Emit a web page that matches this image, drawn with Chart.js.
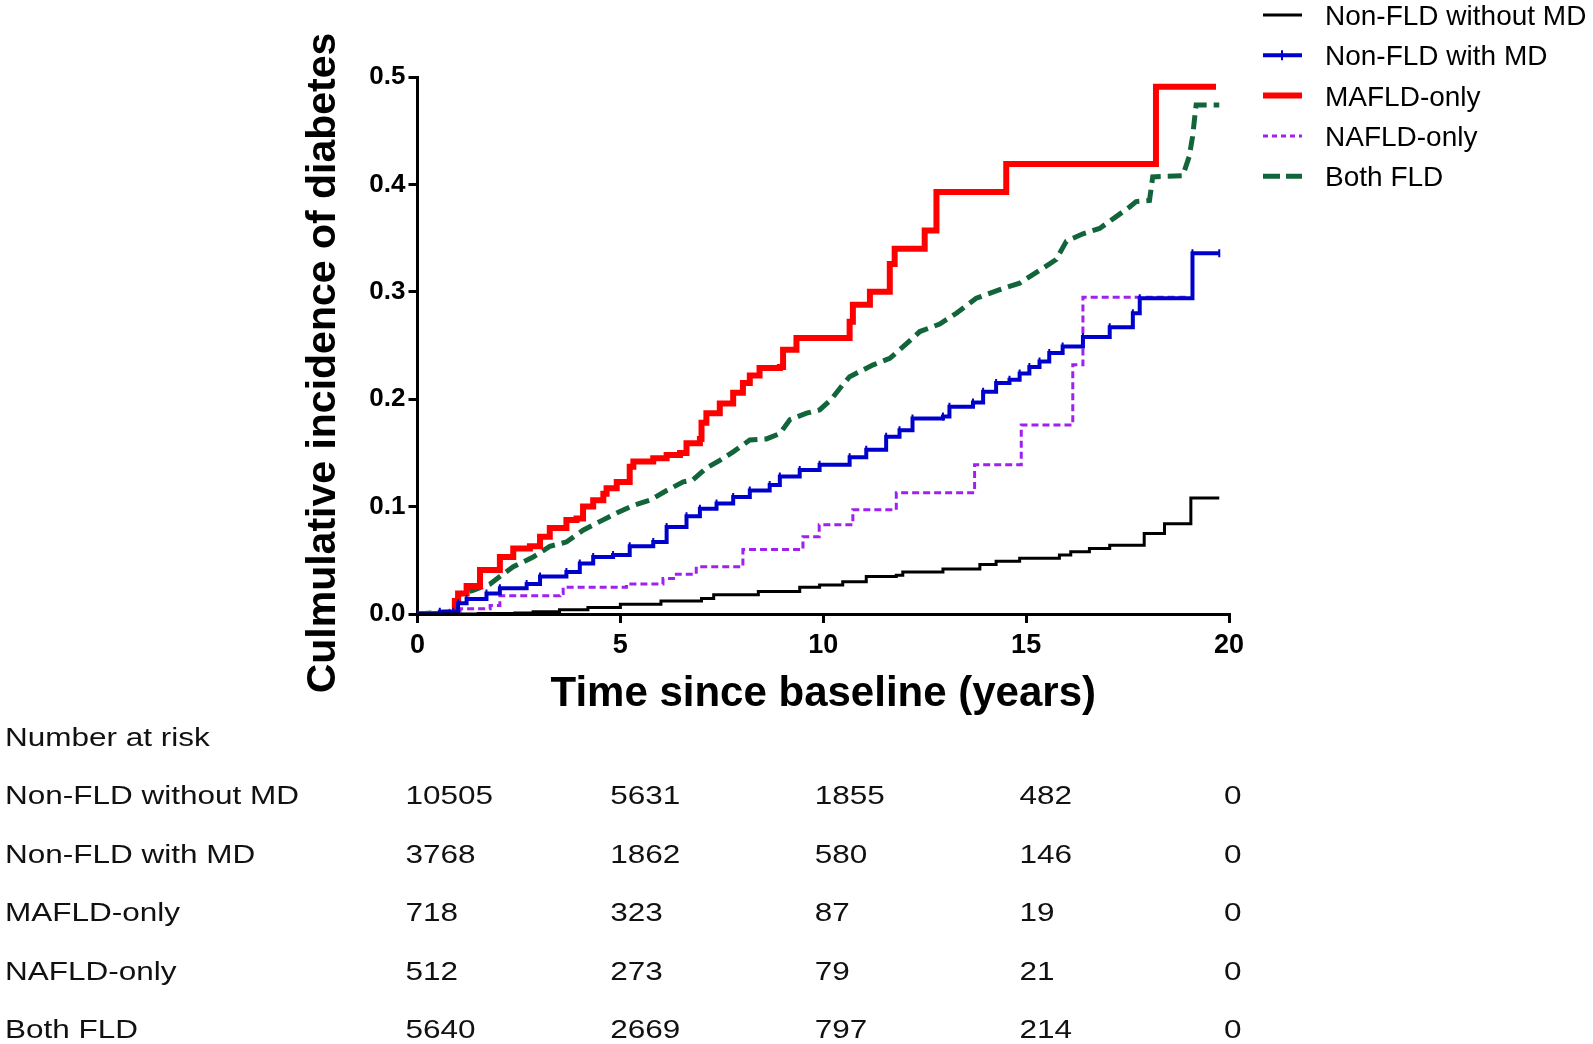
<!DOCTYPE html>
<html>
<head>
<meta charset="utf-8">
<script src="https://cdn.jsdelivr.net/npm/chart.js@4/dist/chart.umd.min.js"></script>
<style>
  html, body { margin: 0; padding: 0; background: #fff; }
  #wrap { position: relative; width: 1593px; height: 1044px; }
</style>
</head>
<body>
<div id="wrap"><canvas id="km"></canvas></div>
<script>
// Groups and curve data (time in years, cumulative incidence)
const groupNames = ['Non-FLD without MD', 'Non-FLD with MD', 'MAFLD-only', 'NAFLD-only', 'Both FLD'];

const noFldTime = [0, 1.5, 2.4, 2.85, 3.5, 4.2, 5.0, 6.0, 7.0, 7.3, 8.4, 9.42, 9.91, 10.48, 11.06, 11.8, 11.96, 12.95, 13.86, 14.26, 14.84, 15.82, 16.1, 16.56, 17.06, 17.91, 18.41, 19.06, 19.76];
const noFldVals = [0, 0.0005, 0.001, 0.002, 0.004, 0.006, 0.009, 0.012, 0.0145, 0.018, 0.021, 0.025, 0.027, 0.030, 0.035, 0.036, 0.039, 0.042, 0.046, 0.049, 0.052, 0.055, 0.058, 0.061, 0.064, 0.075, 0.084, 0.108, 0.108];

const mdTime = [0, 0.55, 0.88, 1.0, 1.21, 1.7, 2.03, 2.69, 3.02, 3.67, 4.0, 4.33, 4.82, 5.23, 5.81, 6.14, 6.63, 6.96, 7.37, 7.78, 8.19, 8.68, 8.93, 9.42, 9.91, 10.65, 11.06, 11.55, 11.88, 12.2, 12.95, 13.11, 13.69, 13.94, 14.26, 14.59, 14.84, 15.08, 15.33, 15.57, 15.9, 16.4, 17.06, 17.63, 17.8, 19.1, 19.76];
const mdVals = [0, 0.002, 0.002, 0.010, 0.014, 0.019, 0.024, 0.028, 0.035, 0.039, 0.047, 0.053, 0.055, 0.063, 0.067, 0.081, 0.091, 0.098, 0.103, 0.109, 0.115, 0.120, 0.128, 0.134, 0.139, 0.146, 0.153, 0.165, 0.171, 0.182, 0.184, 0.193, 0.197, 0.207, 0.215, 0.218, 0.224, 0.230, 0.235, 0.243, 0.249, 0.258, 0.267, 0.280, 0.294, 0.336, 0.336];

const mafldTime = [0, 0.92, 1.0, 1.21, 1.54, 2.03, 2.36, 2.77, 3.02, 3.26, 3.67, 3.92, 4.08, 4.33, 4.58, 4.66, 4.91, 5.23, 5.32, 5.81, 6.14, 6.47, 6.63, 6.96, 7.0, 7.12, 7.45, 7.78, 8.02, 8.19, 8.43, 8.93, 9.01, 9.34, 10.65, 10.73, 11.15, 11.64, 11.76, 12.5, 12.79, 14.51, 18.2, 19.68];
const mafldVals = [0, 0.012, 0.019, 0.026, 0.041, 0.053, 0.061, 0.063, 0.072, 0.080, 0.0875, 0.089, 0.100, 0.106, 0.112, 0.117, 0.123, 0.137, 0.142, 0.145, 0.148, 0.150, 0.159, 0.163, 0.178, 0.187, 0.196, 0.206, 0.215, 0.222, 0.229, 0.230, 0.246, 0.257, 0.272, 0.288, 0.300, 0.326, 0.340, 0.357, 0.393, 0.419, 0.491, 0.491];

const nafldTime = [0, 1.05, 1.79, 2.03, 3.51, 3.59, 5.15, 6.05, 6.38, 6.87, 8.02, 9.5, 9.9, 10.73, 11.8, 13.73, 14.88, 16.15, 16.4, 19.02];
const nafldVals = [0, 0.005, 0.008, 0.017, 0.019, 0.025, 0.028, 0.033, 0.037, 0.044, 0.060, 0.072, 0.083, 0.097, 0.113, 0.139, 0.176, 0.232, 0.295, 0.295];

// this one is read as a smooth trace (many small events), steps only where visible
const bothTime = [0, 0.80, 0.97, 1.05, 1.37, 1.79, 2.03, 2.36, 2.85, 3.26, 3.67, 4.08, 4.49, 4.91, 5.32, 5.73, 6.14, 6.55, 6.79, 7.12, 7.45, 7.78, 8.19, 8.6, 8.93, 9.18, 9.59, 9.91, 10.2, 10.45, 10.65, 11.23, 11.64, 12.06, 12.38, 12.87, 13.28, 13.77, 14.35, 14.84, 15.33, 15.74, 15.99, 16.4, 16.81, 17.22, 17.55, 17.71, 18.04, 18.12, 18.86, 19.02, 19.1, 19.19, 19.76];
const bothVals = [0, 0.002, 0.013, 0.019, 0.022, 0.028, 0.035, 0.044, 0.053, 0.063, 0.067, 0.078, 0.086, 0.094, 0.101, 0.106, 0.115, 0.123, 0.125, 0.136, 0.143, 0.151, 0.162, 0.163, 0.168, 0.181, 0.187, 0.190, 0.200, 0.212, 0.221, 0.232, 0.238, 0.252, 0.263, 0.270, 0.280, 0.294, 0.302, 0.308, 0.320, 0.330, 0.347, 0.354, 0.359, 0.370, 0.379, 0.384, 0.385, 0.407, 0.408, 0.426, 0.444, 0.474, 0.474];

// Number at risk table
const riskTimes = [0, 5, 10, 15, 20];
const riskNoFld = [10505, 5631, 1855, 482, 0];
const riskMd = [3768, 1862, 580, 146, 0];
const riskMafld = [718, 323, 87, 19, 0];
const riskNafld = [512, 273, 79, 21, 0];
const riskBoth = [5640, 2669, 797, 214, 0];

const xTicks = [0, 5, 10, 15, 20];
const yTicks = [0, 0.1, 0.2, 0.3, 0.4, 0.5];

const toPoints = (ts, vs) => ts.map((t, i) => ({ x: t, y: vs[i] }));

const styles = [
  { color: '#000000', width: 3, dash: [], stepped: true },
  { color: '#0000cc', width: 4, dash: [], stepped: true },
  { color: '#ff0000', width: 6, dash: [], stepped: true },
  { color: '#a020f0', width: 3, dash: [7, 4], stepped: true },
  { color: '#12653a', width: 5, dash: [14, 7], stepped: false }
];
const series = [
  toPoints(noFldTime, noFldVals),
  toPoints(mdTime, mdVals),
  toPoints(mafldTime, mafldVals),
  toPoints(nafldTime, nafldVals),
  toPoints(bothTime, bothVals)
];
const riskRows = [riskNoFld, riskMd, riskMafld, riskNafld, riskBoth];

const datasets = series.map((pts, i) => ({
  label: groupNames[i],
  data: pts,
  borderColor: styles[i].color,
  backgroundColor: styles[i].color,
  borderWidth: styles[i].width,
  borderDash: styles[i].dash,
  borderCapStyle: 'butt',
  borderJoinStyle: 'miter',
  stepped: styles[i].stepped,
  tension: 0,
  fill: false,
  pointRadius: i === 1 ? 4 : 0,
  pointStyle: 'line',
  rotation: 90,
  pointBorderWidth: 2,
  pointBorderColor: styles[i].color
}));

const FONT = '"Liberation Sans", Arial, sans-serif';

// titles, legend and risk table
const extras = {
  id: 'extras',
  afterDraw(chart) {
    const { ctx, scales: { x } } = chart;
    ctx.save();
    ctx.fillStyle = '#000';

    // y title
    ctx.save();
    ctx.translate(335, 363);
    ctx.rotate(-Math.PI / 2);
    ctx.font = 'bold 41px ' + FONT;
    ctx.textAlign = 'center';
    ctx.textBaseline = 'alphabetic';
    ctx.fillText('Culmulative incidence of diabetes', 0, 0);
    ctx.restore();

    // x title
    ctx.font = 'bold 42px ' + FONT;
    ctx.textAlign = 'center';
    ctx.textBaseline = 'alphabetic';
    ctx.fillText('Time since baseline (years)', (chart.chartArea.left + chart.chartArea.right) / 2, 706);

    // legend
    ctx.font = '28px ' + FONT;
    ctx.textAlign = 'left';
    groupNames.forEach((name, i) => {
      const base = 25 + i * 40.3;
      const ly = base - 10;
      const st = styles[i];
      ctx.save();
      ctx.strokeStyle = st.color;
      ctx.lineWidth = st.width;
      ctx.setLineDash(i === 3 ? [5, 4] : (i === 4 ? [17, 6] : []));
      ctx.beginPath();
      ctx.moveTo(1263, ly);
      ctx.lineTo(1302, ly);
      ctx.stroke();
      if (i === 1) {
        ctx.setLineDash([]);
        ctx.lineWidth = 2;
        ctx.beginPath();
        ctx.moveTo(1282, ly - 5);
        ctx.lineTo(1282, ly + 5);
        ctx.stroke();
      }
      ctx.restore();
      ctx.fillStyle = '#000';
      ctx.fillText(name, 1325, base);
    });

    // number at risk table (the original type is wide, so stretch it)
    const sx = 1.26;
    ctx.save();
    ctx.scale(sx, 1);
    ctx.font = '25px ' + FONT;
    ctx.fillStyle = '#111';
    ctx.textAlign = 'left';
    ctx.fillText('Number at risk', 5 / sx, 745.7);
    riskRows.forEach((row, r) => {
      const base = 804.2 + r * 58.5;
      ctx.fillText(groupNames[r], 5 / sx, base);
      row.forEach((n, c) => {
        // columns sit a little left of each tick, drifting slightly right
        const left = x.getPixelForValue(riskTimes[c]) - 12 + riskTimes[c] * 0.35;
        ctx.fillText(String(n), left / sx, base);
      });
    });
    ctx.restore();

    ctx.restore();
  }
};

new Chart(document.getElementById('km'), {
  type: 'line',
  data: { datasets },
  options: {
    responsive: true,
    maintainAspectRatio: false,
    animation: false,
    layout: { padding: { left: 317, right: 364, top: 77, bottom: 0 } },
    plugins: { legend: { display: false }, tooltip: { enabled: false } },
    scales: {
      x: {
        type: 'linear',
        min: 0,
        max: 20,
        afterFit: s => { s.height = 430; },
        afterBuildTicks: s => { s.ticks = xTicks.map(v => ({ value: v })); },
        border: { display: true, color: '#000', width: 3 },
        grid: { display: true, drawOnChartArea: false, drawTicks: true, tickLength: 9, color: '#000', lineWidth: 3 },
        ticks: { color: '#000', font: { family: FONT, size: 27, weight: 'bold' }, padding: 6, maxRotation: 0, callback: v => String(v) }
      },
      y: {
        type: 'linear',
        min: 0,
        max: 0.5,
        afterFit: s => { s.width = 100.5; },
        afterBuildTicks: s => { s.ticks = yTicks.map(v => ({ value: v })); },
        border: { display: true, color: '#000', width: 3 },
        grid: { display: true, drawOnChartArea: false, drawTicks: true, tickLength: 9, color: '#000', lineWidth: 3 },
        ticks: { color: '#000', font: { family: FONT, size: 26, weight: 'bold' }, padding: 3, callback: v => Number(v).toFixed(1) }
      }
    }
  },
  plugins: [extras]
});
</script>
</body>
</html>
